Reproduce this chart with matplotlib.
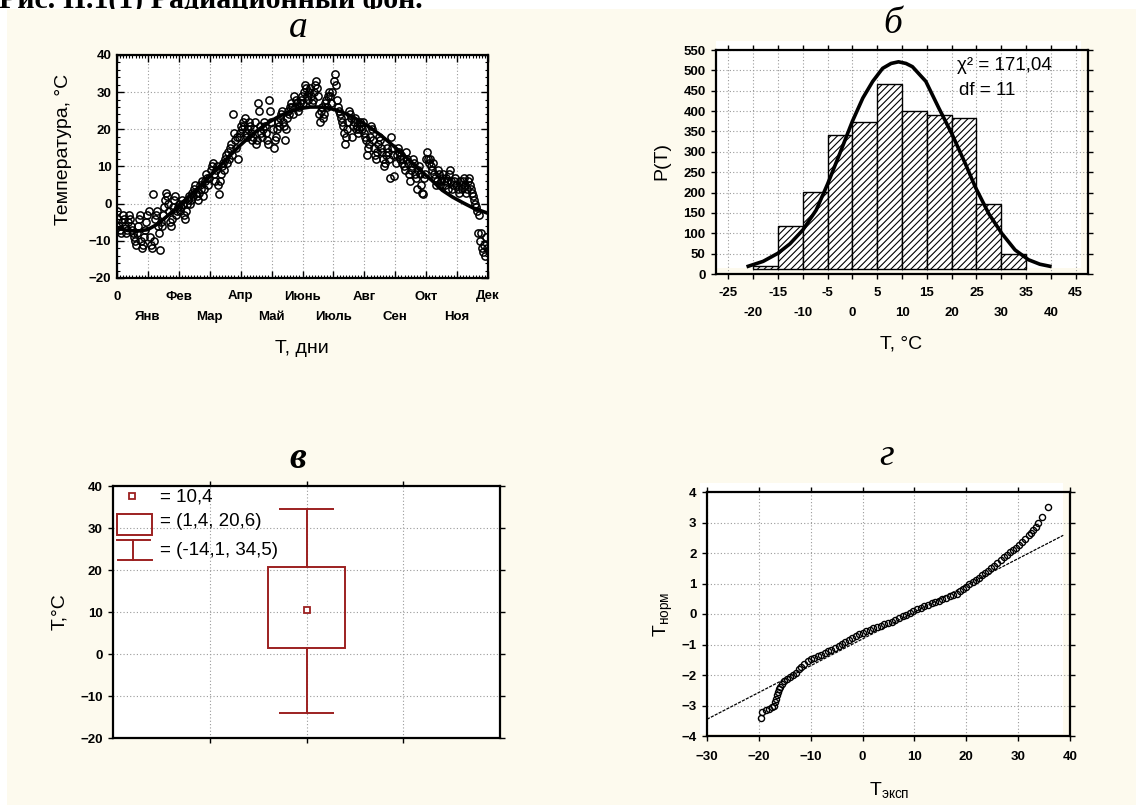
import matplotlib
matplotlib.use('Agg')
import matplotlib.pyplot as plt
import matplotlib.transforms as mtransforms
from matplotlib.patches import Rectangle
from matplotlib.ticker import MultipleLocator
import numpy as np

# --- а: daily air temperature over one year, with a smooth seasonal fit
temps = [
    -2, -4, -6, -7, -8, -5, -3, -4, -6, -8, -7, -5, -3, -4, -6, -7, -8, -9, -10, -11, -8, -6, -4, -3, -10, -12, -11, -9, -7, -5,
    -3, -2, -9, -11, -12, 2.5, -10, -4, -3, -2, -6, -8, -12.5, -5, -6, -3, -1, 1, 3, 2, 0, -2, -5, -6, -4, -1, 1, 2, -3, -2,
    -1, 0, -2, -1, 1, 0, -3, -4, -2, 0, 1, 2, 0, 1, 3, 2, 4, 5, 3, 2, 1, 3, 5, 4, 6, 2, 4, 6, 8, 7,
    5, 7, 9, 10, 11, 8, 6, 9, 10, 5, 2.5, 6, 8, 10, 11, 9, 12, 13, 11, 14, 12, 15, 16, 13, 24, 19, 17, 15, 18, 12,
    18, 19, 21, 20, 22, 21, 23, 19, 18, 20, 22, 21, 19, 17, 18, 20, 22, 16, 17, 27, 25, 21, 19, 18, 20, 22, 21, 19, 17, 16,
    28, 25, 22, 20, 15, 17, 18, 20, 22, 21, 23, 24, 25, 22, 21, 17, 20, 23, 25, 24, 26, 27, 26, 24, 29, 26, 28, 27, 25, 26,
    27, 28, 29, 27, 30, 32, 31, 29, 28, 30, 31, 29, 27, 28, 30, 32, 33, 31, 29, 24, 22, 25, 26, 23, 24, 27, 28, 26, 29, 30,
    29, 27, 30, 33, 35, 32, 28, 26, 25, 24, 23, 22, 21, 19, 16, 18, 20, 22, 25, 24, 23, 18, 21, 22, 23, 20, 21, 19, 20, 22,
    21, 20, 22, 19, 18, 17, 13, 15, 16, 18, 21, 20, 17, 15, 13, 12, 14, 16, 18, 17, 15, 14, 12, 10, 11, 13, 15, 14, 12, 7,
    18, 15, 13, 7.5, 11, 13, 15, 14, 12, 13, 11, 12, 10, 9, 14, 12, 11, 8, 6, 9, 10, 12, 11, 8, 7, 4, 9, 10, 8, 5,
    3, 2.5, 7, 8, 12, 14, 12, 11, 12, 10, 9, 11, 8, 7, 5, 6, 9, 8, 5, 6, 7, 8, 6, 5, 7, 6, 4, 8, 9, 6,
    4, 5, 6, 7, 5, 4, 3, 6, 5, 4, 6, 7, 5, 3, 4, 6, 7, 5, 4, 3, 2, 1, 0, -1, -2, -8, -3, -10, -8, -12, -13, -11, -14, -9, -12,
]
days = np.arange(len(temps))

fit_days = [0, 10, 20, 30, 40, 50, 60, 70, 80, 90, 100, 110, 120, 130, 140, 150, 160, 170, 180,
            190, 200, 210, 220, 230, 240, 250, 260, 270, 280, 290, 300, 310, 320, 330, 340, 350, 365]
fit_temps = [-6.5, -7.2, -7.4, -7.0, -5.5, -3.2, -0.8, 1.8, 4.3, 7.0, 9.8, 12.6, 15.4, 17.9, 20.1, 22.0, 23.6, 24.8, 25.6,
             26.0, 26.0, 25.6, 24.8, 23.6, 22.1, 20.3, 18.3, 16.0, 13.6, 11.1, 8.6, 6.2, 3.6, 1.8, 0.3, -1.1, -2.6]

months = ['0', 'Янв', 'Фев', 'Мар', 'Апр', 'Май', 'Июнь', 'Июль', 'Авг', 'Сен', 'Окт', 'Ноя', 'Дек']

# --- б: histogram of temperatures with the normal curve
bin_left = [-20, -15, -10, -5, 0, 5, 10, 15, 20, 25, 30]
bin_count = [20, 118, 201, 342, 372, 466, 401, 390, 382, 172, 49]
bar_base = 12
pdf_x = [-21, -18, -15, -12.6, -10, -7.3, -5, -2.6, 0, 2.1, 4.1, 6.1, 7.8, 9.3, 10.8, 12.1,
         14.8, 17.4, 20.1, 22.8, 24.8, 27.5, 30.1, 32.8, 35.5, 37.8, 39.8]
pdf_y = [19, 31, 51, 74, 108, 157, 221, 294, 375, 432, 473, 505, 517, 521, 517, 509,
         473, 408, 343, 270, 213, 148, 100, 59, 35, 24, 19]
chi2 = 171.04
dof = 11

# --- в: box summary
t_mean = 10.4
t_box = (1.4, 20.6)
t_range = (-14.1, 34.5)

# --- г: normal probability plot
qq_exp = [-19.6, -19.3, -18.6, -18.0, -17.4, -17.0, -16.8, -16.7, -16.5, -16.4, -16.1, -15.9, -15.5, -15.1,
          -14.6, -14.0, -13.4, -12.8, -12.2, -11.8, -11.2, -10.6, -10.0, -9.3, -8.6, -8.0, -7.3, -6.6,
          -6.0, -5.3, -4.6, -4.0, -3.3, -2.6, -2.0, -1.3, -0.6, 0.0, 0.7, 1.4, 2.1, 2.8, 3.5, 4.2,
          4.9, 5.6, 6.3, 7.0, 7.7, 8.4, 9.1, 9.8, 10.5, 11.2, 11.9, 12.6, 13.3, 14.0, 14.7, 15.4,
          16.1, 16.8, 17.5, 18.2, 18.8, 19.4, 20.0, 20.6, 21.2, 21.8, 22.4, 23.0, 23.6, 24.2, 24.8,
          25.4, 26.0, 26.6, 27.2, 27.8, 28.4, 29.0, 29.6, 30.2, 30.8, 31.4, 32.0, 32.5, 32.9, 33.4,
          33.9, 34.6, 35.7]
qq_norm = [-3.41, -3.22, -3.15, -3.10, -3.06, -3.02, -2.90, -2.78, -2.66, -2.56, -2.47, -2.40, -2.30, -2.20,
           -2.13, -2.06, -1.99, -1.92, -1.80, -1.73, -1.64, -1.55, -1.49, -1.44, -1.38, -1.33, -1.28, -1.22,
           -1.18, -1.12, -1.05, -0.99, -0.92, -0.85, -0.80, -0.73, -0.67, -0.62, -0.56, -0.51, -0.47, -0.43, -0.40, -0.34,
           -0.30, -0.25, -0.19, -0.13, -0.07, -0.02, 0.04, 0.10, 0.16, 0.21, 0.26, 0.30, 0.35, 0.40, 0.44, 0.49,
           0.53, 0.58, 0.62, 0.67, 0.74, 0.82, 0.89, 0.97, 1.04, 1.12, 1.19, 1.27, 1.34, 1.42, 1.50,
           1.59, 1.68, 1.78, 1.87, 1.95, 2.03, 2.10, 2.18, 2.26, 2.35, 2.46, 2.58, 2.66, 2.75, 2.86,
           2.98, 3.18, 3.51]
ref_x = [-30, 38.7]
ref_y = [-3.45, 2.58]

W, H = 1136, 805
CREAM = '#fdfaee'
RED = '#9c2020'
SANS = ['Liberation Sans', 'DejaVu Sans']
SERIF = ['Liberation Serif', 'DejaVu Serif']
GRID = dict(color='#9a9a9a', linestyle=(0, (1, 2)), linewidth=0.8)

plt.rcParams['font.family'] = SANS
plt.rcParams['mathtext.fontset'] = 'custom'
plt.rcParams['mathtext.rm'] = 'Liberation Sans'
plt.rcParams['hatch.linewidth'] = 0.8


def px_box(left, top, right, bottom):
    return [left / W, 1 - bottom / H, (right - left) / W, (bottom - top) / H]


def px_text(x, y, s, **kw):
    return fig.text(x / W, 1 - y / H, s, zorder=3, **kw)


def style_axes(ax, direction, length):
    ax.set_zorder(1)
    for sp in ax.spines.values():
        sp.set_linewidth(1.6)
    ax.tick_params(which='major', direction=direction, length=length, width=1,
                   top=True, right=True, labelsize=9.5, pad=4)
    for lbl in ax.get_xticklabels() + ax.get_yticklabels():
        lbl.set_fontweight('bold')
    ax.grid(True, which='major', **GRID)
    ax.set_axisbelow(True)


def two_row_labels(ax, ticks, names, row2_y):
    # every other tick label goes on a lower second row
    ax.set_xticks(ticks)
    ax.set_xticklabels([n if i % 2 == 0 else '' for i, n in enumerate(names)])
    tr = mtransforms.blended_transform_factory(ax.transData, ax.transAxes)
    for i, (t, n) in enumerate(zip(ticks, names)):
        if i % 2 == 1:
            ax.text(t, row2_y, n, transform=tr, ha='center', va='top', fontsize=9.5,
                    fontweight='bold', clip_on=False)


def white_panel(left, top, right, bottom):
    fig.add_artist(Rectangle((left / W, 1 - bottom / H), (right - left) / W, (bottom - top) / H,
                             transform=fig.transFigure, facecolor='white', edgecolor='none', zorder=0.7))


def fmt(v):
    return f'{v:g}'.replace('.', ',')


fig = plt.figure(figsize=(W / 100, H / 100), dpi=100, facecolor='white')

# caption line cut by the top edge, then the cream sheet over it
cap = px_text(-1, 8, 'Рис. II.1(1) Радиационный фон.', family=SERIF, weight='bold', fontsize=21.5,
              va='baseline', ha='left')
cap.set_zorder(0)
fig.add_artist(Rectangle((7 / W, 0), 1 - 7 / W, 1 - 9 / H, transform=fig.transFigure,
                         facecolor=CREAM, edgecolor='none', zorder=0.5))

# ---------------- а
ax_a = fig.add_axes(px_box(117, 55, 488, 278))
ax_a.set_facecolor('white')
ax_a.plot(days, temps, 'o', mfc='none', mec='black', ms=5.2, mew=1.1)
ax_a.plot(fit_days, fit_temps, color='black', lw=2.6)
ax_a.set_xlim(0, 365)
ax_a.set_ylim(-20, 40)
two_row_labels(ax_a, np.arange(13) * 365 / 12, months, -0.147)
ax_a.set_yticks(range(-20, 41, 10))
ax_a.xaxis.set_minor_locator(MultipleLocator(365 / 120))
ax_a.yaxis.set_minor_locator(MultipleLocator(2))
style_axes(ax_a, 'in', 5)
ax_a.tick_params(which='minor', direction='in', length=2.5, width=0.8, top=True, right=True)
ax_a.tick_params(axis='x', pad=9)

px_text(298, 37, 'а', family=SERIF, style='italic', fontsize=27, ha='center', va='baseline')
px_text(63, 149, 'Температура, °C', fontsize=14, rotation=90, ha='center', va='center')
px_text(302, 348, 'T, дни', fontsize=14, ha='center', va='center')

# ---------------- б
white_panel(716, 41, 1081, 268)
ax_b = fig.add_axes(px_box(716, 50, 1088, 274))
ax_b.set_facecolor('none')
ax_b.bar(bin_left, np.array(bin_count) - bar_base, width=5, bottom=bar_base, align='edge',
         facecolor='white', edgecolor='black', hatch='/////', linewidth=1.0)
ax_b.plot(pdf_x, pdf_y, color='black', lw=2.6)
ax_b.set_xlim(-27.5, 47.5)
ax_b.set_ylim(0, 550)
b_ticks = list(range(-25, 46, 5))
two_row_labels(ax_b, b_ticks, [str(v) for v in b_ticks], -0.146)
ax_b.set_yticks(range(0, 551, 50))
style_axes(ax_b, 'out', 3.5)
ax_b.tick_params(axis='x', pad=6)
ax_b.text(0.648, 0.933, 'χ² = ' + f'{chi2:.2f}'.replace('.', ','), transform=ax_b.transAxes,
          fontsize=13.5, va='center', ha='left')
ax_b.text(0.653, 0.817, f'df = {dof}', transform=ax_b.transAxes, fontsize=13.5, va='center', ha='left')

px_text(893, 33, 'б', family=SERIF, style='italic', fontsize=27, ha='center', va='baseline')
px_text(662, 161, 'P(T)', fontsize=14, rotation=90, ha='center', va='center')
px_text(901, 344, 'T, °C', fontsize=14, ha='center', va='center')

# ---------------- в
ax_c = fig.add_axes(px_box(113, 486, 500, 738))
ax_c.set_facecolor('white')
ax_c.add_patch(Rectangle((1.6, t_box[0]), 0.8, t_box[1] - t_box[0], facecolor='none',
                         edgecolor=RED, lw=1.4, zorder=3))
ax_c.plot([2, 2], [t_box[1], t_range[1]], color=RED, lw=1.4)
ax_c.plot([2, 2], [t_range[0], t_box[0]], color=RED, lw=1.4)
ax_c.hlines(t_range, 1.715, 2.285, colors=RED, lw=1.4)
ax_c.plot([2], [t_mean], 's', mfc='white', mec=RED, ms=5, mew=1.3, zorder=4)
ax_c.set_xlim(0, 4)
ax_c.set_ylim(-20, 40)
ax_c.set_xticks([1, 2, 3])
ax_c.set_xticklabels([])
ax_c.set_yticks(range(-20, 41, 10))
style_axes(ax_c, 'out', 3.5)

# legend for the box symbols
tr = ax_c.transAxes
ax_c.plot([0.05], [0.9615], 's', mfc='white', mec=RED, ms=5, mew=1.3, transform=tr, clip_on=False)
ax_c.add_patch(Rectangle((0.011, 0.8056), 0.0887, 0.0833, transform=tr, facecolor='none',
                         edgecolor=RED, lw=1.4))
ax_c.plot([0.0096, 0.0956], [0.7857, 0.7857], color=RED, lw=1.4, transform=tr)
ax_c.plot([0.0525, 0.0525], [0.7857, 0.7063], color=RED, lw=1.4, transform=tr)
ax_c.plot([0.0129, 0.1], [0.7063, 0.7063], color=RED, lw=1.4, transform=tr)
ax_c.text(0.1214, 0.956, '= ' + fmt(t_mean), transform=tr, fontsize=13.5, va='center')
ax_c.text(0.1214, 0.858, f'= ({fmt(t_box[0])}, {fmt(t_box[1])})', transform=tr, fontsize=13.5, va='center')
ax_c.text(0.1214, 0.746, f'= ({fmt(t_range[0])}, {fmt(t_range[1])})', transform=tr, fontsize=13.5, va='center')

px_text(298, 468, 'в', family=SERIF, style='italic', weight='bold', fontsize=27, ha='center', va='baseline')
px_text(60, 612, 'T,°C', fontsize=14, rotation=90, ha='center', va='center')

# ---------------- г
white_panel(700, 483, 1063, 734)
ax_d = fig.add_axes(px_box(707, 492, 1070, 736))
ax_d.set_facecolor('none')
ax_d.plot(ref_x, ref_y, color='black', lw=0.9, linestyle=(0, (2.5, 1)))
ax_d.plot(qq_exp, qq_norm, 'o', mfc='none', mec='black', ms=4.4, mew=1.0)
ax_d.set_xlim(-30, 40)
ax_d.set_ylim(-4, 4)
ax_d.set_xticks(range(-30, 41, 10))
ax_d.set_yticks(range(-4, 5))
style_axes(ax_d, 'out', 3.5)
ax_d.tick_params(axis='x', pad=7)

px_text(887, 465, 'г', family=SERIF, style='italic', fontsize=27, ha='center', va='baseline')
px_text(663, 614, r'$\mathregular{T_{норм}}$', fontsize=14, rotation=90, ha='center', va='center')
px_text(889, 790, r'$\mathregular{T_{эксп}}$', fontsize=14, ha='center', va='center')

fig.savefig('out.png', dpi=100, facecolor=fig.get_facecolor())
